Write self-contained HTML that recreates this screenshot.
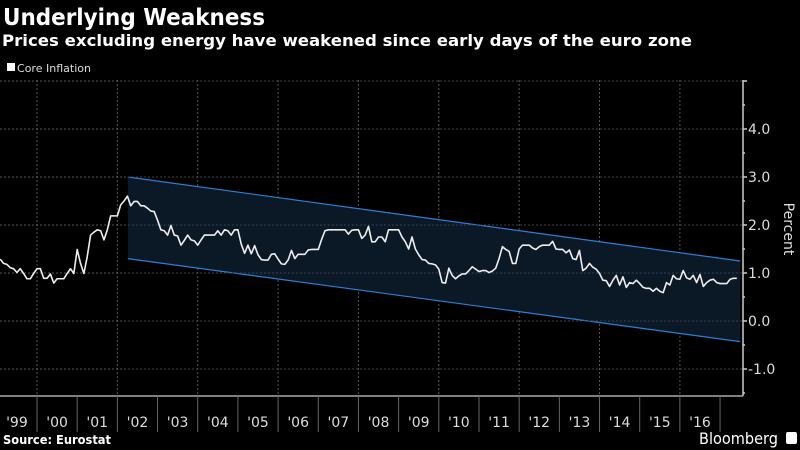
<!DOCTYPE html>
<html><head><meta charset="utf-8"><style>
html,body{margin:0;padding:0;background:#000;}
svg{display:block;}
text{font-family:"DejaVu Sans","Liberation Sans",sans-serif;}
</style></head><body>
<svg id="chart" width="800" height="450" viewBox="0 0 800 450" xmlns="http://www.w3.org/2000/svg">
<rect x="0" y="0" width="800" height="450" fill="#000"/>
<text x="3" y="25" font-size="23" font-weight="bold" fill="#fff" textLength="262" lengthAdjust="spacingAndGlyphs">Underlying Weakness</text>
<text x="2" y="46" font-size="16" font-weight="bold" fill="#fff" textLength="690" lengthAdjust="spacingAndGlyphs">Prices excluding energy have weakened since early days of the euro zone</text>
<rect x="7" y="63" width="8" height="8" fill="#fff"/>
<text x="17" y="72" font-size="11" fill="#ddd" textLength="74" lengthAdjust="spacingAndGlyphs">Core Inflation</text>
<g id="grid"></g>
<g id="channel"></g>
<g id="series"></g>
<g id="axes"></g>
<text transform="translate(784,229) rotate(90)" font-size="14" fill="#ddd" text-anchor="middle">Percent</text>
<text x="3" y="444" font-size="12" font-weight="bold" fill="#fff" textLength="108" lengthAdjust="spacingAndGlyphs">Source: Eurostat</text>
<text x="699" y="444" font-size="16" fill="#fff" textLength="79" lengthAdjust="spacingAndGlyphs">Bloomberg</text>
<rect x="786" y="432" width="11" height="12" rx="2" fill="#fff"/>
</svg>
<script>
const startYear = 1999, startMonth = 1; // first value = Feb 1999
const coreValues = [1.29,1.20,1.18,1.11,1.09,1.01,1.09,0.99,0.88,0.88,0.99,1.09,1.09,0.89,0.89,0.98,0.79,0.88,0.88,0.88,0.99,1.09,0.99,
1.49,1.20,0.99,1.34,1.79,1.85,1.90,1.88,1.69,1.90,2.19,2.19,2.19,2.42,2.50,2.60,2.40,2.49,2.49,2.40,2.40,2.35,2.29,2.28,2.10,1.90,1.88,1.79,1.99,1.79,1.77,1.58,1.68,1.79,1.69,1.67,1.58,1.69,1.79,1.79,1.79,1.79,1.88,1.79,1.90,1.88,1.79,1.90,1.90,1.60,1.41,1.58,
1.40,1.57,1.38,1.28,1.27,1.27,1.39,1.40,1.29,1.19,1.18,1.27,1.47,1.30,1.39,1.39,1.39,1.48,1.49,1.49,1.49,1.70,1.88,1.90,1.90,1.90,1.90,1.90,1.90,1.81,1.89,1.90,1.90,1.72,1.79,1.97,1.65,1.65,1.75,1.75,1.65,1.90,1.90,1.90,1.90,1.75,1.65,1.50,1.75,1.50,1.38,1.28,1.27,1.20,1.19,1.17,1.08,0.80,0.79,1.10,0.95,0.88,0.94,0.98,0.98,1.05,1.13,1.08,1.03,1.05,1.05,1.01,
1.04,1.10,1.30,1.55,1.49,1.45,1.20,1.20,1.50,1.58,1.58,1.58,1.52,1.49,1.55,1.58,1.58,1.58,1.66,1.50,1.49,1.49,1.42,1.48,1.30,1.28,1.47,1.05,1.10,1.20,1.12,1.08,0.99,0.85,0.84,0.72,0.85,0.95,0.75,0.92,0.70,0.80,0.78,0.85,0.78,0.70,0.68,0.68,0.62,0.68,0.62,0.59,0.80,0.75,0.95,0.88,0.87,1.05,0.90,0.87,0.95,0.80,0.97,0.72,0.80,0.85,0.87,0.80,0.78,0.78,0.78,0.87,0.89,0.89];
const channelDates = [2002.26, 2017.5];
const channelUpper = [3.0, 1.25];
const channelLower = [1.3, -0.43];
const yTicks = [4.0, 3.0, 2.0, 1.0, 0.0, -1.0];
const yTickLabels = ["4.0","3.0","2.0","1.0","0.0","-1.0"];
const yearLabels = ["'99","'00","'01","'02","'03","'04","'05","'06","'07","'08","'09","'10","'11","'12","'13","'14","'15","'16"];

const NS = "http://www.w3.org/2000/svg";
const X0 = 37, YW = 40.18, Y0 = 321, UNIT = 48, AXX = 743, AXY = 396, TOP = 80;
function xs(t){ return X0 + (t - 2000) * YW; }
function ys(v){ return Y0 - v * UNIT; }
function mk(tag, attrs, parent){ const e = document.createElementNS(NS, tag); for (const k in attrs) e.setAttribute(k, attrs[k]); parent.appendChild(e); return e; }

const grid = document.getElementById('grid');
for (let v = -1; v <= 5; v++) {
  const l = mk('line', {x1:0, x2:AXX, y1:ys(v), y2:ys(v), stroke:'#555', 'stroke-width':1, 'stroke-dasharray':'2,2'}, grid);
  
  
}
for (let y = 2000; y <= 2016; y += 2) {
  const l = mk('line', {x1:xs(y), x2:xs(y), y1:TOP, y2:AXY, stroke:'#555', 'stroke-width':1, 'stroke-dasharray':'2,2'}, grid);
  
  
}

const ch = document.getElementById('channel');
const poly = mk('polygon', {points: `${xs(channelDates[0])},${ys(channelUpper[0])} ${xs(channelDates[1])},${ys(channelUpper[1])} ${xs(channelDates[1])},${ys(channelLower[1])} ${xs(channelDates[0])},${ys(channelLower[0])}`, fill:'#0b1826'}, ch);


const up = mk('line', {x1:xs(channelDates[0]), y1:ys(channelUpper[0]), x2:xs(channelDates[1]), y2:ys(channelUpper[1]), stroke:'#2e7fd3', 'stroke-width':1.2}, ch);


const lo = mk('line', {x1:xs(channelDates[0]), y1:ys(channelLower[0]), x2:xs(channelDates[1]), y2:ys(channelLower[1]), stroke:'#2e7fd3', 'stroke-width':1.2}, ch);


for (let v = -1; v <= 5; v++) {
  mk('line', {x1:xs(channelDates[0]), x2:AXX, y1:ys(v), y2:ys(v), stroke:'#3a4350', 'stroke-width':1, 'stroke-dasharray':'2,2'}, ch);
}

const pts = coreValues.map((v, i) => `${xs(startYear + (startMonth + i) / 12).toFixed(2)},${ys(v).toFixed(2)}`).join(' ');
const line = mk('polyline', {points: pts, fill:'none', stroke:'#eee', 'stroke-width':1.6, 'stroke-linejoin':'round'}, document.getElementById('series'));



const ax = document.getElementById('axes');
const ya = mk('line', {x1:AXX, x2:AXX, y1:TOP, y2:AXY, stroke:'#ccc', 'stroke-width':1.5}, ax);


const xa = mk('line', {x1:0, x2:AXX, y1:AXY, y2:AXY, stroke:'#aaa', 'stroke-width':1.5}, ax);


for (let v = -1.5; v <= 5; v += 0.5) {
  const major = Number.isInteger(v);
  mk('line', {x1:AXX, x2:AXX + (major ? 4 : 2), y1:ys(v), y2:ys(v), stroke:'#ccc', 'stroke-width':1.5}, ax);
}
yTicks.forEach((v, i) => {
  const t = mk('text', {x:AXX + 5, y:ys(v) + 5, 'font-size':14, fill:'#ddd'}, ax);
  t.textContent = yTickLabels[i];
  
  
});
for (let y = 2000; y <= 2017; y++) {
  mk('line', {x1:xs(y), x2:xs(y), y1:AXY, y2:432, stroke:'#666', 'stroke-width':1}, ax);
}
yearLabels.forEach((lab, i) => {
  const t = mk('text', {x:xs(startYear + i + 0.5), y:427, 'font-size':14, fill:'#ddd', 'text-anchor':'middle'}, ax);
  t.textContent = lab;
  
  
});
</script>
</body></html>
